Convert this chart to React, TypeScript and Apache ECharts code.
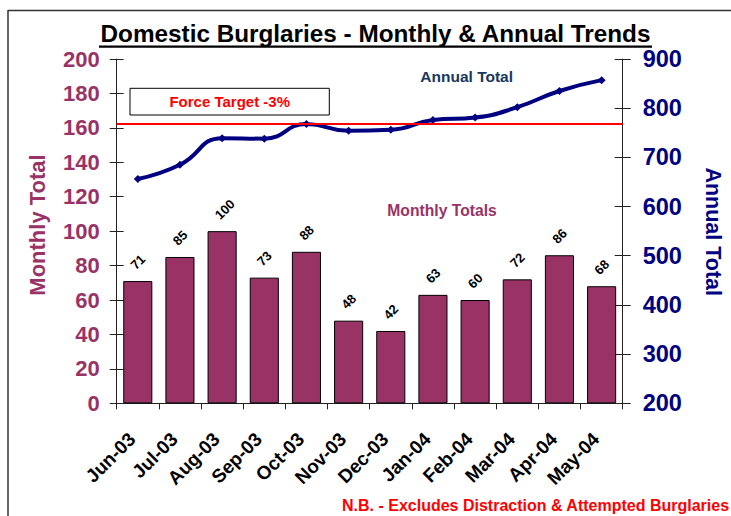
import React, { useEffect, useRef } from "react";
import * as echarts from "echarts";

const categories = ["Jun-03", "Jul-03", "Aug-03", "Sep-03", "Oct-03", "Nov-03", "Dec-03", "Jan-04", "Feb-04", "Mar-04", "Apr-04", "May-04"];
const monthlyTotals = [71, 85, 100, 73, 88, 48, 42, 63, 60, 72, 86, 68];
const annualTotals = [656, 685, 739, 738, 768, 754, 756, 776, 781, 802, 835, 857];
const forceTarget = 769;
const leftAxis = { min: 0, max: 200, interval: 20 };
const rightAxis = { min: 200, max: 900, interval: 100 };

const FONT = "Arial, 'Liberation Sans', sans-serif";
const PLUM = "#993366";
const NAVY = "#000080";

export default function App() {
  const ref = useRef<HTMLDivElement>(null);
  useEffect(() => {
    if (!ref.current) return;
    const chart = echarts.init(ref.current, null, { renderer: "svg" });
    const axisLineStyle = { color: "#222", width: 1 };
    chart.setOption({
      animation: false,
      backgroundColor: "#fff",
      grid: { left: 116.7, right: 108.3, top: 59, bottom: 112.7, containLabel: false },
      xAxis: [
        {
          type: "category",
          data: categories,
          boundaryGap: true,
          axisLine: { lineStyle: axisLineStyle },
          axisTick: { show: true, length: 6, lineStyle: axisLineStyle },
          axisLabel: {
            rotate: 45,
            margin: 27,
            padding: [0, 8, 0, 0],
            fontSize: 19,
            fontWeight: "bold",
            color: "#000",
            fontFamily: FONT,
            interval: 0,
          },
          splitLine: { show: false },
        },
      ],
      yAxis: [
        {
          type: "value",
          position: "left",
          ...leftAxis,
          axisLine: { show: true, lineStyle: axisLineStyle },
          axisTick: { show: true, length: 7, lineStyle: axisLineStyle },
          axisLabel: { margin: 17, fontSize: 22, fontWeight: "bold", color: PLUM, fontFamily: FONT },
          splitLine: { show: false },
        },
        {
          type: "value",
          position: "right",
          ...rightAxis,
          axisLine: { show: true, lineStyle: axisLineStyle },
          axisTick: { show: true, length: 8, lineStyle: axisLineStyle },
          axisLabel: { margin: 20, fontSize: 23.5, fontWeight: "bold", color: NAVY, fontFamily: FONT },
          splitLine: { show: false },
        },
        {
          type: "value",
          position: "left",
          ...leftAxis,
          axisLine: { show: false },
          axisTick: { show: true, inside: true, length: 7, lineStyle: axisLineStyle },
          axisLabel: { show: false },
          splitLine: { show: false },
        },
        {
          type: "value",
          position: "right",
          ...rightAxis,
          axisLine: { show: false },
          axisTick: { show: true, inside: true, length: 8, lineStyle: axisLineStyle },
          axisLabel: { show: false },
          splitLine: { show: false },
        },
      ],
      series: [
        {
          type: "bar",
          name: "Monthly Totals",
          data: monthlyTotals,
          yAxisIndex: 0,
          barCategoryGap: "31%",
          itemStyle: { color: PLUM, borderColor: "#000", borderWidth: 1 },
          label: { show: false },
          z: 2,
        },
        {
          type: "custom",
          name: "Monthly labels",
          xAxisIndex: 0,
          yAxisIndex: 0,
          data: monthlyTotals.map((v, i) => [i, v]),
          silent: true,
          z: 3,
          renderItem: (_params: any, api: any) => {
            const p = api.coord([api.value(0), api.value(1)]);
            return {
              type: "text",
              x: p[0] - 5,
              y: p[1] - 14,
              rotation: Math.PI / 4,
              style: {
                text: String(api.value(1)),
                fontSize: 13,
                fontWeight: "bold",
                fontFamily: FONT,
                fill: "#000",
                align: "left",
                verticalAlign: "middle",
              },
            };
          },
        },
        {
          type: "line",
          name: "Annual Total",
          data: annualTotals,
          yAxisIndex: 1,
          smooth: 0.5,
          symbol: "diamond",
          symbolSize: 8,
          lineStyle: { color: NAVY, width: 4 },
          itemStyle: { color: NAVY },
          z: 4,
          markLine: {
            silent: true,
            symbol: ["none", "none"],
            label: { show: false },
            lineStyle: { color: "#ff0000", width: 2, type: "solid" },
            data: [{ yAxis: forceTarget }],
          },
        },
      ],
      graphic: [
        { type: "line", shape: { x1: 8, y1: 10.5, x2: 731, y2: 10.5 }, style: { stroke: "#333", lineWidth: 1.5 }, silent: true },
        { type: "line", shape: { x1: 8, y1: 10, x2: 8, y2: 516 }, style: { stroke: "#333", lineWidth: 1.5 }, silent: true },
        {
          type: "text",
          x: 375.5,
          y: 33.5,
          style: {
            text: "Domestic Burglaries - Monthly & Annual Trends",
            fontSize: 24.3,
            fontWeight: "bold",
            fontFamily: FONT,
            fill: "#000",
            align: "center",
            verticalAlign: "middle",
          },
        },
        { type: "rect", shape: { x: 99, y: 45.5, width: 553, height: 2.3 }, style: { fill: "#000" } },
        {
          type: "rect",
          z: 10,
          shape: { x: 130, y: 88.3, width: 199.3, height: 26.7 },
          style: { fill: "#fff", stroke: "#000", lineWidth: 1 },
        },
        {
          type: "text",
          z: 11,
          x: 229.7,
          y: 101.7,
          style: { text: "Force Target -3%", fontSize: 15, fontWeight: "bold", fontFamily: FONT, fill: "#ff0000", align: "center", verticalAlign: "middle" },
        },
        {
          type: "text",
          x: 466.7,
          y: 76,
          style: { text: "Annual Total", fontSize: 15.5, fontWeight: "bold", fontFamily: FONT, fill: "#17375E", align: "center", verticalAlign: "middle" },
        },
        {
          type: "text",
          x: 442,
          y: 210.7,
          style: { text: "Monthly Totals", fontSize: 15.7, fontWeight: "bold", fontFamily: FONT, fill: PLUM, align: "center", verticalAlign: "middle" },
        },
        {
          type: "text",
          x: 37.5,
          y: 225,
          rotation: Math.PI / 2,
          style: { text: "Monthly Total", fontSize: 22, fontWeight: "bold", fontFamily: FONT, fill: PLUM, align: "center", verticalAlign: "middle" },
        },
        {
          type: "text",
          x: 713,
          y: 231.7,
          rotation: -Math.PI / 2,
          style: { text: "Annual Total", fontSize: 21.5, fontWeight: "bold", fontFamily: FONT, fill: NAVY, align: "center", verticalAlign: "middle" },
        },
        {
          type: "text",
          x: 342,
          y: 505,
          style: { text: "N.B. - Excludes Distraction & Attempted Burglaries", fontSize: 16, fontWeight: "bold", fontFamily: FONT, fill: "#ff0000", align: "left", verticalAlign: "middle" },
        },
      ],
    });
    return () => chart.dispose();
  }, []);
  return <div ref={ref} style={{ position: "fixed", left: 0, top: 0, width: 731, height: 516 }} />;
}
